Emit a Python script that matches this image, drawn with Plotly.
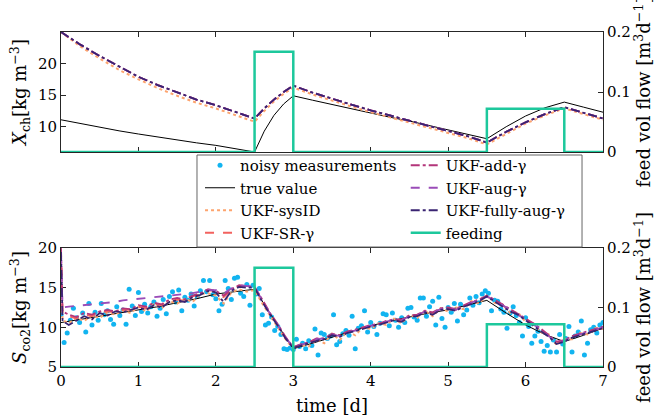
import numpy as np
import plotly.graph_objects as go

# ---------------- top panel: X_ch ----------------
t_top = [0, 0.25, 0.5, 0.75, 1.0, 1.25, 1.5, 1.75, 2.0, 2.25, 2.5, 2.625, 2.75, 2.875, 3.0,
         3.25, 3.5, 3.75, 4.0, 4.25, 4.5, 4.75, 5.0, 5.25, 5.5, 5.75, 6.0, 6.25, 6.5, 6.75, 7.0]
true_top = [11.1, 10.5, 9.9, 9.35, 8.85, 8.35, 7.9, 7.45, 7.05, 6.5, 6.0, 9.3, 11.8, 13.6, 14.9,
            14.2, 13.5, 12.8, 12.2, 11.5, 10.9, 10.2, 9.5, 8.8, 8.1, 10.0, 11.7, 13.0, 13.9, 13.1, 12.3]
ukf_gamma_top = [25.0, 23.0, 21.2, 19.5, 17.9, 16.6, 15.4, 14.3, 13.4, 12.4, 11.3, 12.9, 14.3, 15.5, 16.5,
                 15.4, 14.4, 13.5, 12.6, 11.8, 11.0, 10.2, 9.4, 8.5, 7.5, 9.2, 10.7, 12.0, 13.1, 12.2, 11.3]
sysid_top = [25.0, 22.7, 20.8, 19.0, 17.5, 16.1, 14.9, 13.8, 12.9, 11.9, 10.8, 12.5, 14.0, 15.2, 16.2,
             15.1, 14.1, 13.2, 12.3, 11.5, 10.7, 9.9, 9.1, 8.2, 7.2, 8.9, 10.5, 11.8, 12.9, 12.0, 11.1]

# ---------------- feeding schedule ----------------
feed_t = [0, 2.5, 3.0, 5.5, 6.5, 7.0]
feed_q = [0, 0.167, 0, 0.072, 0, 0]

# ---------------- bottom panel: S_co2 ----------------
t_true_bot = [0, 0.25, 0.5, 0.75, 1.0, 1.25, 1.5, 1.75, 2.0, 2.25, 2.5, 2.75, 3.0, 3.25, 3.5,
              3.75, 4.0, 4.25, 4.5, 4.75, 5.0, 5.25, 5.5, 5.75, 6.0, 6.25, 6.5, 6.75, 7.0]
true_bot = [10.6, 11.0, 11.4, 11.8, 12.2, 12.6, 13.1, 13.6, 14.2, 14.5, 14.8, 11.0, 7.3, 8.0, 8.8,
            9.5, 10.2, 10.8, 11.3, 11.8, 12.2, 12.8, 13.4, 11.8, 10.3, 9.1, 8.2, 9.0, 9.9]

t_meas = np.round(np.arange(176) * 0.04, 2)
meas = [11.6, 8.1, 9.3, 10.9, 12.4, 11.2, 10.6, 11.8, 9.4, 13.0,
        10.3, 11.9, 10.9, 13.0, 11.6, 12.1, 11.0, 10.4, 12.6, 11.5,
        12.2, 10.4, 14.8, 12.7, 11.5, 14.4, 12.0, 12.9, 11.8, 12.6,
        13.2, 11.4, 12.4, 13.5, 11.7, 13.9, 14.5, 13.2, 14.7, 12.1,
        13.8, 13.4, 14.2, 12.7, 13.9, 14.6, 15.9, 14.5, 15.9, 14.1,
        13.6, 12.1, 12.9, 15.9, 14.9, 13.5, 16.2, 16.3, 14.3, 13.9,
        15.4, 12.8, 15.3, 14.2, 14.9, 11.6, 10.3, 10.5, 11.3, 9.6,
        10.1, 9.1, 7.3, 7.2, 7.4, 7.2, 8.5, 7.6, 8.0, 7.3,
        8.3, 7.7, 9.8, 6.5, 9.3, 9.1, 8.6, 8.9, 11.6, 7.8,
        8.2, 9.2, 9.6, 9.0, 11.4, 7.3, 9.9, 10.2, 12.1, 9.4,
        10.6, 10.1, 9.1, 10.5, 11.7, 11.6, 10.2, 11.8, 10.9, 10.0,
        11.2, 10.6, 12.4, 12.5, 11.3, 10.9, 13.7, 13.7, 11.4, 12.6,
        13.3, 10.3, 13.8, 11.1, 10.0, 12.5, 11.9, 13.0, 10.8, 12.9,
        11.6, 12.2, 13.7, 12.8, 13.9, 13.1, 14.2, 14.6, 14.3, 12.1,
        13.4, 13.3, 12.3, 11.9, 9.9, 11.8, 12.6, 11.5, 10.6, 8.9,
        11.2, 10.1, 8.0, 8.9, 9.5, 8.2, 7.0, 7.7, 6.9, 8.4,
        6.9, 9.1, 7.9, 8.6, 10.1, 6.9, 8.9, 9.4, 10.8, 6.5,
        8.0, 9.7, 10.0, 9.3, 10.3, 10.6]

t_ukf_bot = [0.0, 0.02] + [round(0.1 * i, 1) for i in range(1, 71)]
fully_bot = [19.5, 10.8,
             10.3, 10.9, 11.4, 11.0, 11.8, 11.5, 12.0, 11.9, 12.2, 12.5,
             12.2, 12.8, 12.5, 13.2, 13.4, 13.2, 13.8, 14.1, 14.6, 14.4,
             13.2, 14.6, 15.1, 15.0, 15.0, 13.2, 11.6, 10.2, 8.6, 7.4,
             7.7, 8.0, 8.3, 8.5, 9.0, 8.8, 9.3, 9.5, 9.8, 10.1,
             10.3, 10.6, 10.9, 10.7, 11.3, 11.4, 11.9, 11.6, 12.2, 12.3,
             12.1, 12.6, 13.0, 13.3, 13.9, 13.3, 12.6, 12.0, 11.6, 10.9,
             10.2, 9.6, 8.8, 7.9, 8.2, 8.7, 9.0, 9.3, 9.6, 9.9]
add_bot = [20.0, 12.0,
           11.6, 11.3, 11.8, 11.6, 12.0, 12.2, 12.0, 12.4, 12.3, 12.8,
           12.6, 13.1, 12.9, 13.5, 13.7, 13.5, 14.0, 14.3, 14.8, 14.6,
           14.0, 14.8, 15.3, 15.2, 15.1, 13.5, 11.8, 10.4, 8.8, 7.5,
           7.9, 8.1, 8.6, 8.6, 9.2, 9.0, 9.5, 9.7, 10.0, 10.3,
           10.4, 10.8, 11.0, 11.0, 11.5, 11.6, 12.1, 11.9, 12.4, 12.5,
           12.3, 12.8, 13.2, 13.5, 14.0, 13.5, 12.9, 12.3, 11.8, 11.2,
           10.5, 9.8, 9.0, 8.2, 8.4, 8.9, 9.2, 9.5, 9.8, 10.1]
aug_bot = [19.0, 12.5,
           12.6, 12.7, 12.8, 12.9, 13.0, 13.1, 13.2, 13.4, 13.5, 13.6,
           13.7, 13.8, 13.9, 14.0, 14.1, 14.2, 14.3, 14.5, 14.7, 14.7,
           14.3, 14.9, 15.3, 15.2, 15.1, 13.4, 11.7, 10.3, 8.7, 7.5,
           7.8, 8.1, 8.5, 8.6, 9.1, 8.9, 9.4, 9.6, 9.9, 10.2,
           10.4, 10.7, 11.0, 10.9, 11.4, 11.5, 12.0, 11.8, 12.3, 12.4,
           12.2, 12.7, 13.1, 13.4, 13.9, 13.4, 12.8, 12.2, 11.7, 11.1,
           10.4, 9.7, 8.9, 8.1, 8.3, 8.8, 9.1, 9.4, 9.7, 10.0]
sr_bot = [19.8, 11.8,
          11.4, 11.1, 11.6, 11.4, 11.9, 12.0, 11.9, 12.2, 12.2, 12.6,
          12.4, 12.9, 12.8, 13.3, 13.5, 13.4, 13.9, 14.2, 14.7, 14.5,
          13.8, 14.7, 15.2, 15.1, 15.0, 13.4, 11.7, 10.3, 8.7, 7.5,
          7.8, 8.1, 8.5, 8.5, 9.1, 8.9, 9.4, 9.6, 9.9, 10.2,
          10.4, 10.7, 10.9, 10.9, 11.4, 11.5, 12.0, 11.8, 12.3, 12.4,
          12.2, 12.7, 13.1, 13.4, 13.9, 13.4, 12.8, 12.2, 11.7, 11.1,
          10.4, 9.7, 8.9, 8.1, 8.3, 8.8, 9.1, 9.4, 9.7, 10.0]
sysid_bot = [19.0, 10.9,
             10.5, 11.2, 10.8, 11.5, 11.2, 11.9, 11.6, 12.1, 11.8, 12.6,
             12.0, 12.9, 12.4, 13.3, 13.0, 13.6, 13.2, 14.2, 14.3, 14.0,
             13.0, 14.4, 14.8, 14.5, 14.7, 13.0, 11.5, 10.0, 8.5, 7.3,
             7.8, 7.6, 8.5, 8.0, 9.2, 8.4, 9.5, 9.0, 10.0, 9.8,
             10.5, 10.3, 11.1, 10.5, 11.6, 11.2, 12.1, 11.4, 12.4, 12.0,
             12.5, 12.3, 13.3, 13.0, 14.0, 13.1, 12.9, 11.8, 11.9, 10.7,
             10.5, 9.4, 9.1, 7.8, 8.5, 8.5, 9.3, 9.1, 9.9, 9.8]

# ---------------- styles ----------------
C_MEAS = '#12B4F0'
C_TRUE = '#000000'
C_SYSID = '#FDA46E'
C_SR = '#F2625E'
C_ADD = '#B3357A'
C_AUG = '#9A4CB8'
C_FULLY = '#3A2472'
C_FEED = '#1DC89C'
FONT = 'DejaVu Serif'

fig = go.Figure()

# top panel traces
fig.add_trace(go.Scatter(x=t_top, y=true_top, mode='lines', line=dict(color=C_TRUE, width=1),
                         xaxis='x', yaxis='y', showlegend=False))
fig.add_trace(go.Scatter(x=t_top, y=sysid_top, mode='lines', line=dict(color=C_SYSID, width=2, dash='dot'),
                         xaxis='x', yaxis='y', showlegend=False))
for col, dash in [(C_SR, 'dash'), (C_ADD, 'dashdot'), (C_AUG, 'dash'), (C_FULLY, 'dashdot')]:
    fig.add_trace(go.Scatter(x=t_top, y=ukf_gamma_top, mode='lines', line=dict(color=col, width=1.8, dash=dash),
                             xaxis='x', yaxis='y', showlegend=False))
fig.add_trace(go.Scatter(x=feed_t, y=feed_q, mode='lines', line=dict(color=C_FEED, width=2.5, shape='hv'),
                         xaxis='x', yaxis='y2', showlegend=False))

# bottom panel traces (legend entries)
fig.add_trace(go.Scatter(x=t_meas, y=meas, mode='markers', marker=dict(color=C_MEAS, size=5),
                         name='noisy measurements', xaxis='x2', yaxis='y3', legend='legend'))
fig.add_trace(go.Scatter(x=t_true_bot, y=true_bot, mode='lines', line=dict(color=C_TRUE, width=1),
                         name='true value', xaxis='x2', yaxis='y3', legend='legend'))
fig.add_trace(go.Scatter(x=t_ukf_bot, y=sysid_bot, mode='lines', line=dict(color=C_SYSID, width=2, dash='dot'),
                         name='UKF-sysID', xaxis='x2', yaxis='y3', legend='legend'))
fig.add_trace(go.Scatter(x=t_ukf_bot, y=sr_bot, mode='lines', line=dict(color=C_SR, width=1.8, dash='dash'),
                         name='UKF-SR-γ', xaxis='x2', yaxis='y3', legend='legend'))
fig.add_trace(go.Scatter(x=t_ukf_bot, y=add_bot, mode='lines', line=dict(color=C_ADD, width=1.8, dash='dashdot'),
                         name='UKF-add-γ', xaxis='x2', yaxis='y3', legend='legend2'))
fig.add_trace(go.Scatter(x=t_ukf_bot, y=aug_bot, mode='lines', line=dict(color=C_AUG, width=1.8, dash='dash'),
                         name='UKF-aug-γ', xaxis='x2', yaxis='y3', legend='legend2'))
fig.add_trace(go.Scatter(x=t_ukf_bot, y=fully_bot, mode='lines', line=dict(color=C_FULLY, width=1.8, dash='dashdot'),
                         name='UKF-fully-aug-γ', xaxis='x2', yaxis='y3', legend='legend2'))
fig.add_trace(go.Scatter(x=feed_t, y=feed_q, mode='lines', line=dict(color=C_FEED, width=2.5, shape='hv'),
                         name='feeding', xaxis='x2', yaxis='y4', legend='legend2'))

AX = dict(showline=True, linecolor='#262626', linewidth=1, ticks='inside', ticklen=5,
          tickcolor='#262626', showgrid=False, zeroline=False, layer='below traces', automargin=False,
          tickfont=dict(family=FONT, size=15, color='black'))
TOP_DOM = [0.6418, 1.0]
BOT_DOM = [0.0, 0.3552]
ticks_x = [0, 1, 2, 3, 4, 5, 6, 7]

fig.update_layout(
    width=668, height=420, margin=dict(l=61, r=65, t=32, b=53, autoexpand=False),
    paper_bgcolor='white', plot_bgcolor='white',
    font=dict(family=FONT, size=15, color='black'),
    xaxis=dict(AX, domain=[0, 1], anchor='y', range=[0, 7], tickvals=ticks_x, showticklabels=False, mirror='ticks'),
    yaxis=dict(AX, domain=TOP_DOM, anchor='x', range=[6, 25], tickvals=[10, 15, 20],
               title=dict(text='<i>X</i><sub>ch</sub>[kg m<sup>−3</sup>]', standoff=6)),
    yaxis2=dict(AX, overlaying='y', side='right', anchor='x', range=[0, 0.2], tickvals=[0, 0.1, 0.2],
                ticktext=['0', '0.1', '0.2'],
                title=dict(text='feed vol flow [m<sup>3</sup>d<sup>−1</sup>]', standoff=6)),
    xaxis2=dict(AX, domain=[0, 1], anchor='y3', range=[0, 7], tickvals=ticks_x, mirror='ticks',
                title=dict(text='time [d]', standoff=10)),
    yaxis3=dict(AX, domain=BOT_DOM, anchor='x2', range=[5, 20], tickvals=[5, 10, 15, 20],
                title=dict(text='<i>S</i><sub>co2</sub>[kg m<sup>−3</sup>]', standoff=6)),
    yaxis4=dict(AX, overlaying='y3', side='right', anchor='x2', range=[0, 0.2], tickvals=[0, 0.1, 0.2],
                ticktext=['0', '0.1', '0.2'],
                title=dict(text='feed vol flow [m<sup>3</sup>d<sup>−1</sup>]', standoff=6)),
    legend=dict(x=0.2565, y=0.6507, xanchor='left', yanchor='top', bgcolor='rgba(0,0,0,0)',
                borderwidth=0, font=dict(family=FONT, size=15), tracegroupgap=0),
    legend2=dict(x=0.636, y=0.6507, xanchor='left', yanchor='top', bgcolor='rgba(0,0,0,0)',
                 borderwidth=0, font=dict(family=FONT, size=15), tracegroupgap=0),
    shapes=[dict(type='rect', xref='paper', yref='paper', x0=0.2509, x1=0.9613, y0=0.3582, y1=0.6328,
                 line=dict(color='#666666', width=1), fillcolor='white', layer='above')],
)

fig.write_html('out.html', config={'displayModeBar': False},
               post_script="document.body.style.margin='0px';")
